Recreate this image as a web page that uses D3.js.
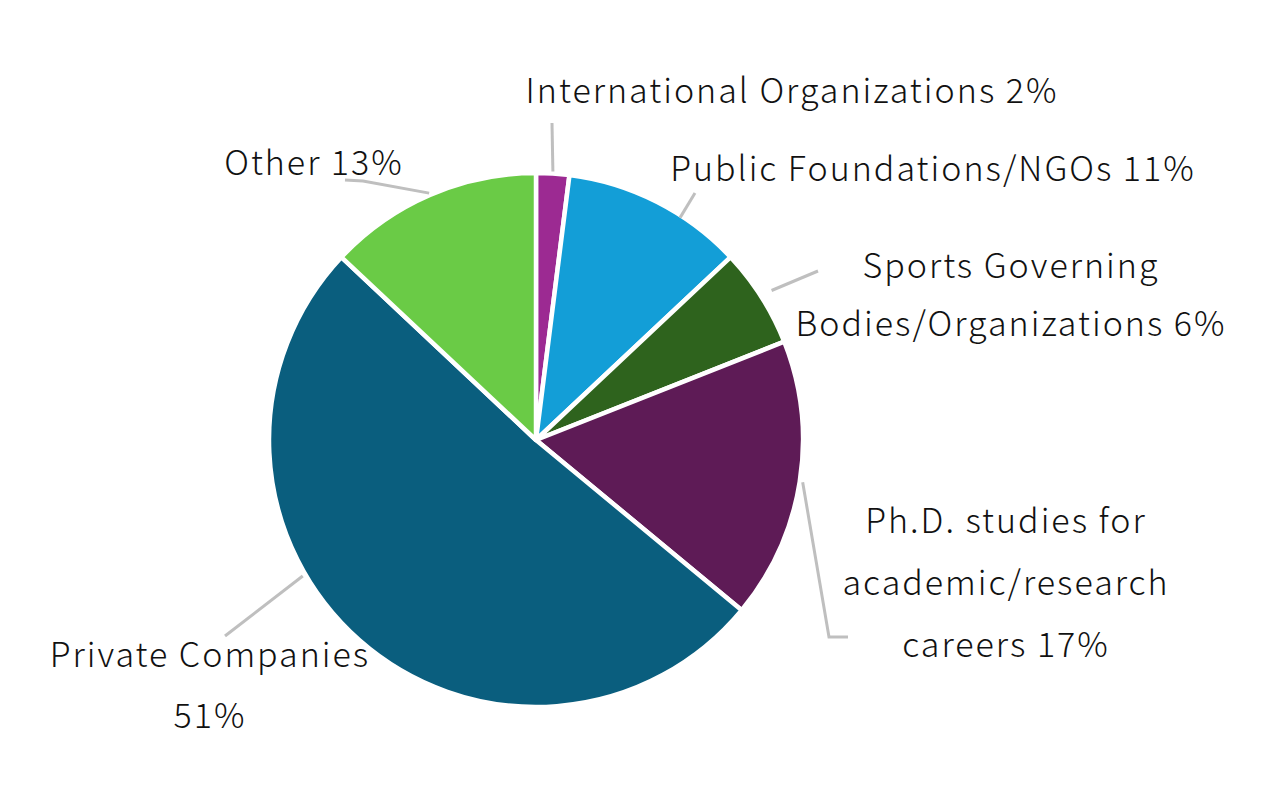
<!DOCTYPE html>
<html><head><meta charset="utf-8">
<script src="https://cdn.jsdelivr.net/npm/d3@7"></script>
<style>
html,body{margin:0;padding:0;background:#fff;}
svg{display:block;}
text{font-family:"Noto Sans CJK JP","Noto Sans",sans-serif;font-weight:300;fill:#111;letter-spacing:2px;}
</style></head>
<body>
<svg id="chart" width="1280" height="800"></svg>
<script>
// ---- data ----
const categories = ["International Organizations","Public Foundations/NGOs","Sports Governing Bodies/Organizations","Ph.D. studies for academic/research careers","Private Companies","Other"];
const values = [2, 11, 6, 17, 51, 13];
const colors = ["#9C2A92","#139ED7","#2E631D","#5E1B56","#0A5E7E","#6ACB46"];
const labelLines = [
  ["International Organizations 2%"],
  ["Public Foundations/NGOs 11%"],
  ["Sports Governing","Bodies/Organizations 6%"],
  ["Ph.D. studies for","academic/research","careers 17%"],
  ["Private Companies","51%"],
  ["Other 13%"]
];

// ---- layout ----
const W = 1280, H = 800;
const cx = 536, cy = 440, R = 267;
const fontSize = 34;
// label placement: center x, first baseline, line height
const labelPos = [
  {x:792, y:103, lh:0},
  {x:933, y:181, lh:0},
  {x:1011, y:278, lh:58},
  {x:1006, y:533, lh:62},
  {x:210, y:667, lh:61},
  {x:314, y:175, lh:0}
];
// leader: t = position within slice angle, r0 offset, then extra points
const leaders = [
  {t:0.5, r0:2, pts:[[552,123]]},
  {t:0.65, r0:-2, pts:[[695,193]]},
  {t:0.5, r0:12, pts:[[818,271]]},
  {t:0.5, r0:3, pts:[[829,637],[848,637]]},
  {t:0.6, r0:3, pts:[[225,636]]},
  {t:0.5, r0:2, pts:[[363,181],[345,180]]}
];

const svg = d3.select("#chart");
const g = svg.append("g").attr("transform", `translate(${cx},${cy})`);

const pie = d3.pie().sort(null).value(d => d)(values);
const arc = d3.arc().innerRadius(0).outerRadius(R);

g.selectAll("path.slice").data(pie).join("path")
  .attr("class","slice")
  .attr("d", arc)
  .attr("fill", (d,i) => colors[i])
  .attr("stroke", "#fff")
  .attr("stroke-width", 4.5)
  .attr("stroke-linejoin","round");

// leader lines
const line = d3.line();
pie.forEach((d,i) => {
  const L = leaders[i];
  const a = d.startAngle + (d.endAngle - d.startAngle) * L.t;
  const rr = R + L.r0;
  const p0 = [cx + rr*Math.sin(a), cy - rr*Math.cos(a)];
  svg.append("path")
    .attr("d", line([p0, ...L.pts]))
    .attr("fill","none")
    .attr("stroke","#BFBFBF")
    .attr("stroke-width",3);
});

// labels
labelLines.forEach((lines,i) => {
  const p = labelPos[i];
  const t = svg.append("text")
    .attr("text-anchor","middle")
    .attr("font-size", fontSize);
  lines.forEach((ln,j) => {
    t.append("tspan").attr("x", p.x).attr("y", p.y + j*p.lh).text(ln);
  });
});
</script>
</body></html>
